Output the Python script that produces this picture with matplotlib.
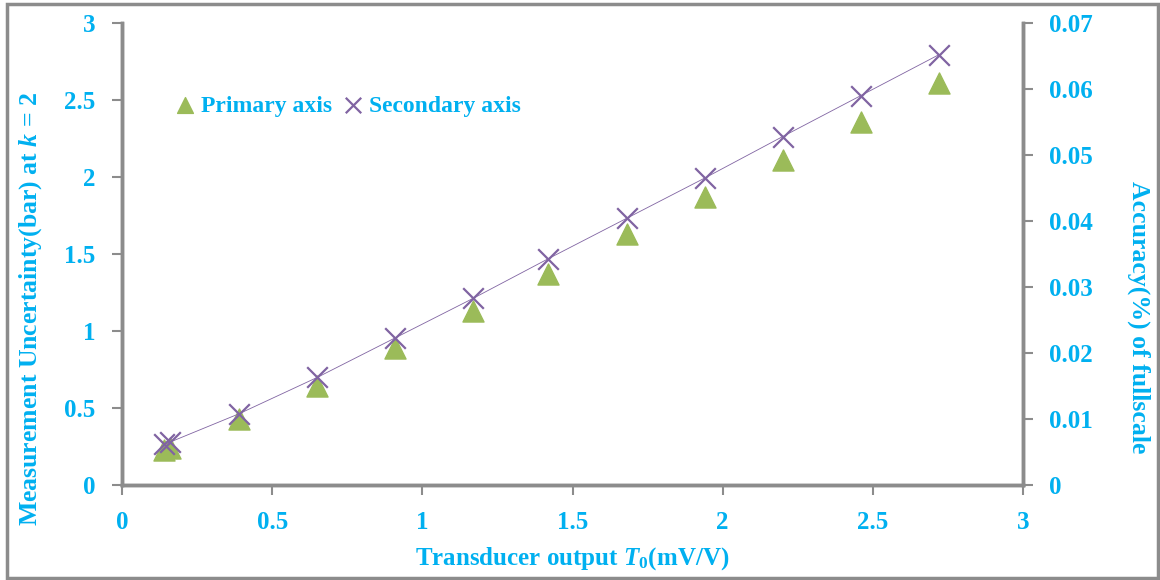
import matplotlib.pyplot as plt
from matplotlib.patches import Rectangle

# transducer output (mV/V)
output_x = [0.14, 0.16, 0.39, 0.65, 0.91, 1.17, 1.42, 1.68, 1.94, 2.20, 2.46, 2.72]
# measurement uncertainty (bar) at k = 2
uncertainty = [0.23, 0.24, 0.43, 0.64, 0.89, 1.13, 1.37, 1.63, 1.87, 2.11, 2.36, 2.61]
# accuracy (% of fullscale)
accuracy = [0.0062, 0.0065, 0.0108, 0.0163, 0.0223, 0.0283, 0.0343, 0.0404, 0.0465, 0.0528, 0.0590, 0.0652]

x_ticks = [0, 0.5, 1, 1.5, 2, 2.5, 3]
x_labels = ["0", "0.5", "1", "1.5", "2", "2.5", "3"]
y1_ticks = [0, 0.5, 1, 1.5, 2, 2.5, 3]
y1_labels = ["0", "0.5", "1", "1.5", "2", "2.5", "3"]
y2_ticks = [0, 0.01, 0.02, 0.03, 0.04, 0.05, 0.06, 0.07]
y2_labels = ["0", "0.01", "0.02", "0.03", "0.04", "0.05", "0.06", "0.07"]

CYAN = "#00B0F0"
GREEN = "#9BBB59"
PURPLE = "#8064A2"
GREY = "#8C8C8C"

plt.rcParams["font.family"] = ["Liberation Serif", "DejaVu Serif"]
plt.rcParams["mathtext.fontset"] = "custom"
plt.rcParams["mathtext.it"] = "Liberation Serif:italic:bold"
plt.rcParams["mathtext.rm"] = "Liberation Serif:bold"

fig = plt.figure(figsize=(11.6, 5.8), dpi=100)
fig.patches.append(Rectangle((7 / 1160, 2 / 580), 1151 / 1160, 574 / 580,
                             transform=fig.transFigure, fill=False,
                             edgecolor=GREY, linewidth=2.5))

ax = fig.add_axes([122 / 1160, 95 / 580, 901 / 1160, 462 / 580])
ax2 = ax.twinx()

ax.scatter(output_x, uncertainty, marker="^", s=230, color=GREEN, zorder=3,
           label="Primary axis")
ax2.plot(output_x, accuracy, color=PURPLE, linewidth=0.6, zorder=2)
ax2.scatter(output_x, accuracy, marker="x", s=220, color=PURPLE, linewidths=1.6,
            zorder=4, label="Secondary axis")

ax.set_xlim(0, 3)
ax.set_ylim(0, 3)
ax2.set_ylim(0, 0.07)

ax.set_xticks(x_ticks)
ax.set_xticklabels(x_labels)
ax.set_yticks(y1_ticks)
ax.set_yticklabels(y1_labels)
ax2.set_yticks(y2_ticks)
ax2.set_yticklabels(y2_labels)

for a in (ax, ax2):
    a.spines["top"].set_visible(False)
    for side in ("left", "right", "bottom"):
        a.spines[side].set_color(GREY)
        a.spines[side].set_linewidth(2.5)
    a.tick_params(colors=GREY, width=1.5, length=7, labelcolor=CYAN,
                  labelsize=18, pad=12)
    for lbl in a.get_xticklabels() + a.get_yticklabels():
        lbl.set_fontweight("bold")

ax.set_xlabel("Transducer output $T_0$(mV/V)", color=CYAN, fontsize=18,
              fontweight="bold", labelpad=8)
ax.set_ylabel("Measurement Uncertainty(bar) at $k$ = 2", color=CYAN, fontsize=18.5,
              fontweight="bold", va="center")
ax.yaxis.set_label_coords(-0.102, 0.38)
ax2.set_ylabel("Accuracy(%) of fullscale", color=CYAN, fontsize=18.5,
               fontweight="bold", rotation=270, va="center")
ax2.yaxis.set_label_coords(1.128, 0.364)

h1, l1 = ax.get_legend_handles_labels()
h2, l2 = ax2.get_legend_handles_labels()
leg = ax.legend(h1 + h2, l1 + l2, loc="upper left", bbox_to_anchor=(0.02, 0.89),
                ncol=2, frameon=False, handletextpad=-0.3, columnspacing=-0.15,
                markerscale=0.75, prop={"weight": "bold", "size": 17})
for t in leg.get_texts():
    t.set_color(CYAN)
ax2.set_zorder(ax.get_zorder() + 1)
ax.patch.set_visible(False)

fig.savefig("out.png", dpi=100)
